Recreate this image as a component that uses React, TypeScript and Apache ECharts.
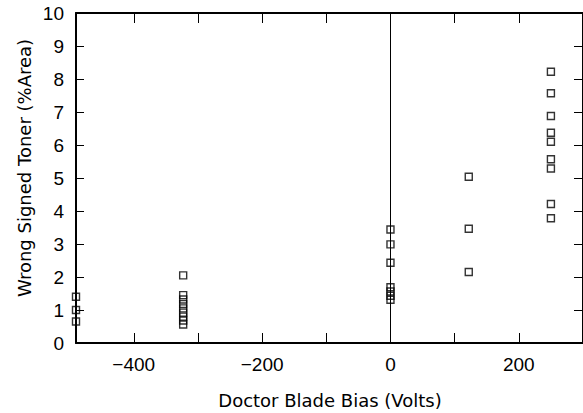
import React, { useEffect, useRef } from "react";
import * as echarts from "echarts";

// Data
const biasGroupA: number[] = [-490, -490, -490];
const tonerGroupA: number[] = [1.4, 1.0, 0.65];
const biasGroupB: number[] = [-323, -323, -323, -323, -323, -323, -323, -323, -323];
const tonerGroupB: number[] = [2.05, 1.45, 1.32, 1.18, 1.05, 0.92, 0.8, 0.68, 0.56];
const biasGroupC: number[] = [0, 0, 0, 0, 0, 0, 0];
const tonerGroupC: number[] = [3.44, 2.99, 2.43, 1.69, 1.56, 1.43, 1.31];
const biasGroupD: number[] = [122, 122, 122];
const tonerGroupD: number[] = [5.04, 3.46, 2.15];
const biasGroupE: number[] = [250, 250, 250, 250, 250, 250, 250, 250, 250];
const tonerGroupE: number[] = [8.22, 7.57, 6.88, 6.37, 6.1, 5.57, 5.29, 4.21, 3.78];

const xTickValues: number[] = [-400, -300, -200, -100, 0, 100, 200, 300];
const xLabelValues: number[] = [-400, -200, 0, 200];
const yTickLabels: string[] = ["0", "1", "2", "3", "4", "5", "6", "7", "8", "9", "10"];

const xTitle = "Doctor Blade Bias (Volts)";
const yTitle = "Wrong Signed Toner (%Area)";

function pairs(xs: number[], ys: number[]): number[][] {
  return xs.map((x, i) => [x, ys[i]]);
}

export default function App() {
  const ref = useRef<HTMLDivElement>(null);
  useEffect(() => {
    if (!ref.current) return;
    const chart = echarts.init(ref.current, null, { renderer: "svg" });
    const font = "Liberation Sans";
    const titleFont = "DejaVu Sans";
    const allPoints = [
      ...pairs(biasGroupA, tonerGroupA),
      ...pairs(biasGroupB, tonerGroupB),
      ...pairs(biasGroupC, tonerGroupC),
      ...pairs(biasGroupD, tonerGroupD),
      ...pairs(biasGroupE, tonerGroupE),
    ];
    const axisLine = { show: true, onZero: false, lineStyle: { color: "#000", width: 2 } };
    chart.setOption({
      animation: false,
      backgroundColor: "#fff",
      grid: { left: 76, top: 13, width: 510, height: 330, containLabel: false },
      xAxis: [
        {
          type: "value",
          position: "bottom",
          min: -490,
          max: 300,
          axisLine,
          axisTick: { show: true, inside: true, length: 10, customValues: xTickValues, lineStyle: { color: "#000", width: 1 } },
          axisLabel: {
            show: true,
            customValues: xLabelValues,
            margin: 12,
            color: "#000",
            fontFamily: font,
            fontSize: 19,
            formatter: (v: number) => (v < 0 ? "\u2212" + Math.abs(v) : String(v)),
          },
          splitLine: { show: false },
        },
        {
          type: "value",
          position: "top",
          min: -490,
          max: 300,
          axisLine,
          axisTick: { show: true, inside: true, length: 10, customValues: xTickValues, lineStyle: { color: "#000", width: 1 } },
          axisLabel: { show: false },
          splitLine: { show: false },
        },
      ],
      yAxis: [
        {
          type: "value",
          position: "left",
          min: 0,
          max: 10,
          interval: 1,
          axisLine,
          axisTick: { show: true, inside: true, length: 8, lineStyle: { color: "#000", width: 1 } },
          axisLabel: {
            show: true,
            margin: 12,
            color: "#000",
            fontFamily: font,
            fontSize: 19,
            formatter: (v: number) => yTickLabels[Math.round(v)] ?? String(v),
          },
          splitLine: { show: false },
        },
        {
          type: "value",
          position: "right",
          min: 0,
          max: 10,
          interval: 1,
          axisLine,
          axisTick: { show: true, inside: true, length: 9, lineStyle: { color: "#000", width: 1 } },
          axisLabel: { show: false },
          splitLine: { show: false },
        },
      ],
      series: [
        {
          type: "scatter",
          xAxisIndex: 0,
          yAxisIndex: 0,
          symbol: "rect",
          symbolSize: 7,
          itemStyle: { color: "rgba(0,0,0,0)", borderColor: "#000", borderWidth: 1.4 },
          data: allPoints,
          markLine: {
            silent: true,
            symbol: ["none", "none"],
            label: { show: false },
            lineStyle: { color: "#000", width: 1, type: "solid" },
            data: [{ xAxis: 0 }],
          },
        },
      ],
      graphic: [
        {
          type: "text",
          x: 330,
          y: 400,
          style: {
            text: xTitle,
            fill: "#000",
            font: `18px "${titleFont}"`,
            textAlign: "center",
            textVerticalAlign: "middle",
          },
        },
        {
          type: "text",
          x: 24,
          y: 168,
          rotation: Math.PI / 2,
          style: {
            text: yTitle,
            fill: "#000",
            font: `18px "${titleFont}"`,
            textAlign: "center",
            textVerticalAlign: "middle",
          },
        },
      ],
    });
    return () => chart.dispose();
  }, []);
  return (
    <div
      ref={ref}
      style={{ position: "absolute", left: 0, top: 0, width: 583, height: 413 }}
    />
  );
}
